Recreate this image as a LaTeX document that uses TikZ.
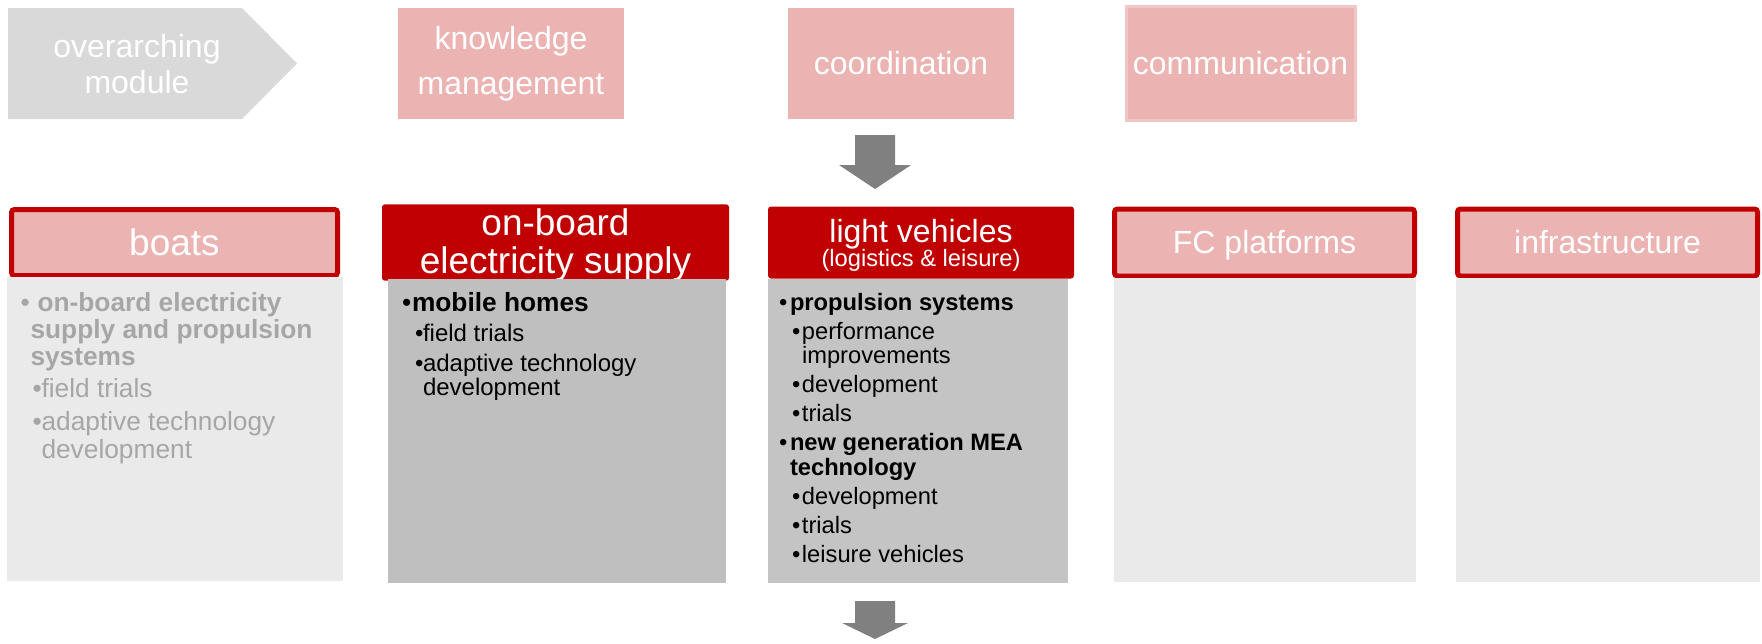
\documentclass[tikz,border=0pt]{standalone}
\usepackage{fontspec}
\setmainfont{Liberation Sans}
\usepackage{xcolor}
\usepackage{tikz}
\usetikzlibrary{positioning}

\definecolor{pinkfill}{RGB}{236,179,179}
\definecolor{darkred}{RGB}{192,0,0}
\definecolor{overgray}{RGB}{217,217,217}
\definecolor{palebody}{RGB}{234,234,234}
\definecolor{greybody}{RGB}{191,191,191}
\definecolor{greybodyb}{RGB}{196,196,196}
\definecolor{boatstext}{RGB}{166,166,166}
\definecolor{arrowgray}{RGB}{128,128,128}
\definecolor{commborder}{RGB}{242,198,198}

\newcommand{\fsz}[2]{\fontsize{#1}{#2}\selectfont\lineskiplimit=-20pt}
\newcommand{\dotA}[1]{\makebox[#1][l]{\textbullet}}
\newcommand{\dotB}[2]{\hspace*{#1}\makebox[#2][l]{\textbullet}}

\begin{document}
\begin{tikzpicture}[x=1pt, y=-1pt,
	topbox/.style={rectangle, fill=pinkfill, text=white, minimum width=226pt, minimum height=111pt, inner sep=0pt, outer sep=0pt, align=center, font=\fsz{32}{45}},
	redframe/.style={rectangle, draw=darkred, line width=5pt, fill=pinkfill, rounded corners=3pt, text=white, minimum width=300pt, minimum height=67pt, inner sep=0pt, font=\fsz{32}{38}, text height=23.5pt, text depth=2.5pt},
	redhead/.style={rectangle, fill=darkred, rounded corners=3pt, text=white, inner sep=0pt, outer sep=0pt, align=center},
	colbody/.style={rectangle, inner sep=0pt, outer sep=0pt, minimum height=304pt},
	listtext/.style={anchor=north west, inner sep=0pt, outer sep=0pt, align=left}]
				\useasboundingbox (0,0) rectangle (1762,643);
				
				\fill[overgray] (8,8) -- (242,8) -- (297,63.5) -- (242,119) -- (8,119) -- cycle;
				\node[text=white, align=center, font=\fsz{32}{36}] (over) at (137,64.5) {overarching\\module};
				
				\node[topbox, anchor=north west] (know) at (398,8) {knowledge\\management};
				\node[topbox, right=164pt of know] (coord) {coordination};
				\node[topbox, right=112pt of coord, draw=commborder, line width=3pt, minimum width=229pt, minimum height=114pt] (comm) {communication};
				
				\fill[arrowgray] (855,135) -- ++(40,0) -- ++(0,30) -- ++(16,0) -- (875,189) -- (839,165) -- ++(16,0) -- cycle;
				
				\node[redframe, minimum width=326pt, minimum height=66pt, font=\fsz{37}{40}, text height=27pt, text depth=2pt] (boats) at (174.5,242.5) {boats};
				\node[redhead, right=42pt of boats, minimum width=347pt, minimum height=74pt, font=\fsz{37}{38}] (onboard) {\rule{0pt}{30.8pt}on-board\\electricity supply};
				\node[redhead, right=39pt of onboard, minimum width=306pt, minimum height=72pt, font=\fsz{32}{24}] (light) {\rule{0pt}{29pt}light vehicles\\{\fsz{23.7}{24}(logistics \& leisure)}};
				\node[redframe, right=38pt of light] (fc) {FC platforms};
				\node[redframe, right=38pt of fc] (infra) {infrastructure};
				
				\node[colbody, fill=palebody, minimum width=336pt, below=-1pt of boats] (boatsbody) {};
				\node[colbody, fill=greybody, minimum width=338pt, below=-1.5pt of onboard, xshift=1.5pt] (onboardbody) {};
				\node[colbody, fill=greybodyb, minimum width=300pt, below=0pt of light, xshift=-3pt] (lightbody) {};
				\node[colbody, fill=palebody, minimum width=302pt, below=-1pt of fc] (fcbody) {};
				\node[colbody, fill=palebody, minimum width=304pt, below=-1pt of infra] (infrabody) {};
				
				\node[listtext, text=boatstext, font=\fsz{26.3}{27.3}] (boatslist) at (20.5,289) {%
					\rule{0pt}{22pt}\dotA{17pt}\textbf{on-board electricity}\\
					\hspace*{10pt}\textbf{supply and propulsion}\\
					\hspace*{10pt}\textbf{systems}\\[5pt]
					\dotB{12pt}{9pt}field trials\\[5.5pt]
					\dotB{12pt}{9pt}adaptive technology\\
					\hspace*{21pt}development};
				
				\node[listtext, font=\fsz{24}{24}] (onboardlist) at (402,289) {%
					\rule{0pt}{22pt}{\fsz{26.3}{24}\dotA{10pt}\textbf{mobile homes}}\\[6pt]
					\dotB{13pt}{8pt}field trials\\[6pt]
					\dotB{13pt}{8pt}adaptive technology\\
					\hspace*{21pt}development};
				
				\node[listtext, font=\fsz{23.7}{24.7}] (lightlist) at (779,290) {%
					\rule{0pt}{20pt}\dotA{11pt}\textbf{propulsion systems}\\[4.3pt]
					\dotB{13pt}{10pt}performance\\
					\hspace*{23pt}improvements\\[4.3pt]
					\dotB{13pt}{10pt}development\\[4.3pt]
					\dotB{13pt}{10pt}trials\\[4.3pt]
					\dotA{11pt}\textbf{new generation MEA}\\
					\hspace*{11pt}\textbf{technology}\\[4.3pt]
					\dotB{13pt}{10pt}development\\[4.3pt]
					\dotB{13pt}{10pt}trials\\[4.3pt]
					\dotB{13pt}{10pt}leisure vehicles};
				
				\fill[arrowgray] (855,601) -- ++(40,0) -- ++(0,22) -- ++(13,0) -- (875,639) -- (842,623) -- ++(13,0) -- cycle;
			\end{tikzpicture}
\end{document}
